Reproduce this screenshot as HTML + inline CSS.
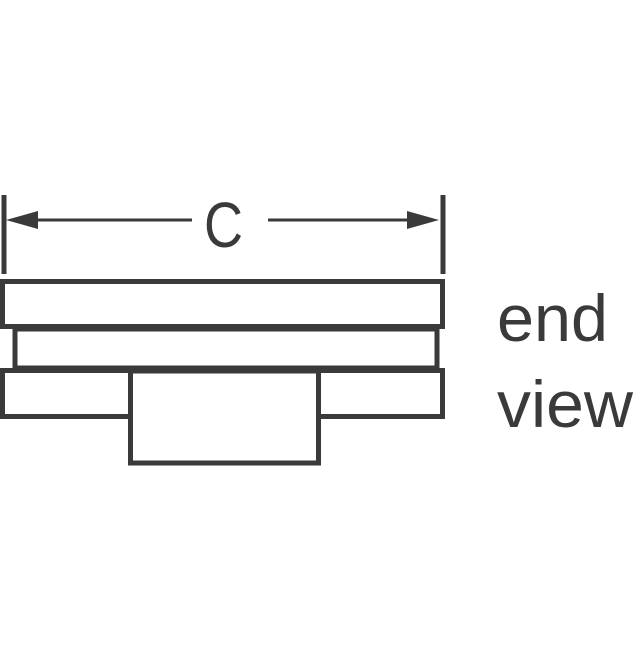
<!DOCTYPE html>
<html><head><style>html,body{margin:0;padding:0;background:#fff}</style></head>
<body>
<svg width="640" height="640" xmlns="http://www.w3.org/2000/svg">
<g stroke="#3a3a3a" stroke-width="5" fill="none">
<line x1="4" y1="195" x2="4" y2="274"/>
<line x1="443" y1="195" x2="443" y2="274"/>
<line x1="20" y1="220" x2="192" y2="220" stroke-width="3"/>
<line x1="268" y1="220" x2="425" y2="220" stroke-width="3"/>
<rect x="2.5" y="281.5" width="440" height="45"/>
<rect x="15" y="329" width="422" height="39"/>
<rect x="2.5" y="370.5" width="440" height="46"/>
<rect x="130.5" y="371" width="188" height="92" fill="#fff"/>
</g>
<polygon points="6,220 38,211 38,229" fill="#3a3a3a"/>
<polygon points="439,220 407,211 407,229" fill="#3a3a3a"/>
<text x="204" y="247" font-family="Liberation Sans, sans-serif" font-size="64" fill="#3a3a3a" textLength="39" lengthAdjust="spacingAndGlyphs">C</text>
<text x="497" y="341" font-family="Liberation Sans, sans-serif" font-size="66" fill="#3a3a3a" textLength="111" lengthAdjust="spacingAndGlyphs">end</text>
<text x="497" y="427" font-family="Liberation Sans, sans-serif" font-size="66" fill="#3a3a3a" textLength="136" lengthAdjust="spacingAndGlyphs">view</text>
</svg>
</body></html>
